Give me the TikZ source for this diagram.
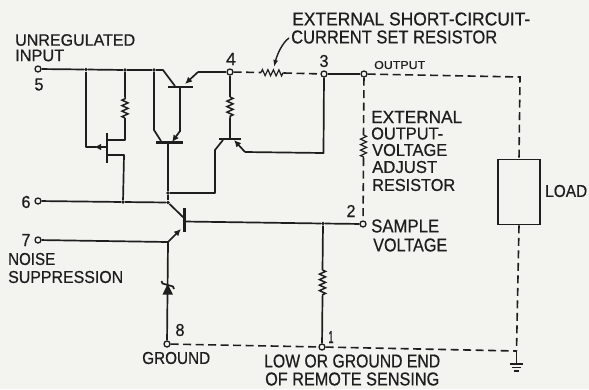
\documentclass[tikz,border=0pt]{standalone}
\usepackage{fontspec}
\setmainfont[FakeBold=0.6]{Liberation Sans}
\usetikzlibrary{arrows.meta,decorations.pathmorphing,positioning}
\definecolor{ink}{HTML}{1E1E1E}
\definecolor{paper}{HTML}{F3F3F0}
\tikzset{
  wire/.style={draw=ink,line width=1.7bp,line join=round},
  thin wire/.style={draw=ink,line width=1.2bp},
  ext/.style={draw=ink,line width=1.6bp,dash pattern=on 8bp off 4.5bp},
  res/.style={draw=ink,line width=1.5bp,decorate,decoration={zigzag,amplitude=3bp,segment length=5.5bp}},
  bar/.style={draw=ink,line width=2.1bp},
  arr/.style={draw=ink,line width=1.7bp,-{Latex[length=7bp,width=6.5bp]}},
  term/.style={circle,draw=ink,line width=1.3bp,fill=paper,minimum size=6bp,inner sep=0pt},
  dot/.style={circle,fill=ink,minimum size=3.8bp,inner sep=0pt},
  lbl/.style={inner sep=0pt,anchor=west,text=ink},
}
\newcommand{\T}[3]{\resizebox{#1bp}{#2bp}{#3}}
\begin{document}
\begin{tikzpicture}[x=1bp,y=-1bp]
\useasboundingbox (0,0) rectangle (589,389);
\fill[paper] (0,0) rectangle (589,389);

% junctions
\node[dot] (j1) at (86,69.5) {};
\node[dot] (j2) at (125,70) {};
\node[dot] (j3) at (154,70) {};
\node[dot] (j6) at (123,202) {};
\node[dot] (j7) at (168,193) {};
\node[dot] (j8) at (168,202.5) {};
\node[dot] (j9) at (323,223.5) {};

% terminals
\node[term] (t5) at (38,69) {};
\node[term] (t6) at (38,201) {};
\node[term] (t7) at (38,240) {};
\node[term] (t8) at (167,344) {};
\node[term] (t4) at (230,72) {};
\node[term] (t3) at (324,74) {};
\node[term] (tout) at (364,74) {};
\node[term] (t2) at (363,224) {};
\node[term] (t1) at (322,347) {};

% resistors and corners
\coordinate (r1a) at (125,97); \coordinate (r1b) at (125,118);
\coordinate (r2a) at (230,97); \coordinate (r2b) at (230,118);
\coordinate (r3a) at (261,72.5); \coordinate (r3b) at (284,73);
\coordinate (r4a) at (363.5,135); \coordinate (r4b) at (363.5,158);
\coordinate (r5a) at (322.5,270); \coordinate (r5b) at (322.5,296);

% input rail
\draw[wire] (t5) -- (j1) -- (j2) -- (j3) -- (163,70) -- (175,86);
% JFET
\draw[wire] (j1) -- (86,147) -- (96,147);
\draw[arr] (108,147) -- (94,147);
\draw[bar] (107,133) -- (107,163);
\draw[wire] (107,140) -- (125,140) -- (r1b);
\draw[res] (r1b) -- (r1a);
\draw[wire] (r1a) -- (j2);
\draw[wire] (107,155) -- (124,155) -- (j6);
% transistor 1
\draw[bar] (168,87) -- (193,87);
\draw[wire] (198,72) -- (t4);
\draw[arr] (198,72) -- (185,84);
\draw[wire] (180,87) -- (180,132);
% transistor 2
\draw[wire] (j3) -- (154,130) -- (161,141);
\draw[bar] (156,142.5) -- (183,142.5);
\draw[arr] (180,131) -- (172,142);
\draw[wire] (168,142) -- (j7) -- (j8);
% transistor 3 (bottom)
\draw[wire] (t6) -- (j6) -- (j8) -- (184,218);
\draw[bar] (184.5,208) -- (184.5,232);
\draw[wire] (184.5,221.5) -- (j9) -- (t2);
\draw[wire] (t7) -- (168,242);
\draw[arr] (168,242) -- (181,229);
% feedback transistor
\draw[wire] (j7) -- (215,193) -- (215,150) -- (223,140);
\draw[bar] (219,139) -- (241,139);
\draw[wire] (t4) -- (r2a);
\draw[res] (r2a) -- (r2b);
\draw[wire] (r2b) -- (230,139);
\draw[arr] (245,152) -- (234,140);
\draw[wire] (245,152) -- (323.5,153) -- (t3);
\draw[wire] (t3) -- (tout);
% zener and ground path
\draw[wire] (168,242) -- (t8);
\fill[ink] (162.5,294.5) -- (173,294.5) -- (167.7,284) -- cycle;
\draw[wire] (161.5,281) -- (162.5,283.5) -- (173,286.5) -- (174,289);
% sense resistor
\draw[wire] (j9) -- (r5a);
\draw[res] (r5a) -- (r5b);
\draw[wire] (r5b) -- (t1);
% external wiring
\draw[ext] (t4) -- (r3a);
\draw[res,line width=1.2bp] (r3a) -- (r3b);
\draw[ext] (r3b) -- (t3);
\draw[ext] (tout) -- (520,77) -- (519,159);
\draw[ext] (tout) -- (r4a);
\draw[res,line width=1.2bp] (r4a) -- (r4b);
\draw[ext] (r4b) -- (t2);
\node[draw=ink,line width=1.7bp,minimum width=42bp,minimum height=65bp,inner sep=0pt] (load) at (519,192) {};
\coordinate (gnd) at (516.5,351);
\draw[ext] (load.south) -- (gnd);
\draw[ext] (t8) -- (t1) -- (gnd);
\draw[wire] (gnd) -- (516.5,364);
\draw[wire] (510,364) -- (523,364);
\draw[thin wire] (512,367.5) -- (521,367.5);
\draw[thin wire] (514,371) -- (519,371);
% callout arrow
\coordinate (call) at (289,38);
\draw[draw=ink,line width=1.4bp,-{Latex[length=7bp,width=5bp]}] (call) .. controls (282,43) and (277,55) .. (274,67);

% labels
\node[lbl] (a1) at (15,40) {\T{120}{11.5}{UNREGULATED}};
\node[lbl] (a2) at (15,55.5) {\T{49}{11.5}{INPUT}};
\node[lbl,anchor=center] (n5) at (39,84.5) {\T{9}{12}{5}};
\node[lbl,anchor=center] (n6) at (26,202) {\T{9}{12}{6}};
\node[lbl,anchor=center] (n7) at (26,240) {\T{9}{12}{7}};
\node[lbl] (a3) at (8,259) {\T{47}{12}{NOISE}};
\node[lbl] (a4) at (8,277) {\T{115}{12}{SUPPRESSION}};
\node[lbl,anchor=center] (n8) at (180,330) {\T{9}{12}{8}};
\node[lbl] (a5) at (142,358) {\T{68}{12}{GROUND}};
\node[lbl,anchor=center] (n4) at (231,59) {\T{10}{12}{4}};
\node[lbl,anchor=center] (n3) at (324,61) {\T{9}{12}{3}};
\node[lbl] (a6) at (374,65) {\T{51}{8}{OUTPUT}};
\node[lbl] (a7) at (292,19) {\T{238}{13}{EXTERNAL SHORT-CIRCUIT-}};
\node[lbl] (a8) at (291,37) {\T{206}{13}{CURRENT SET RESISTOR}};
\node[lbl] (a9) at (371,117) {\T{91}{12}{EXTERNAL}};
\node[lbl] (a10) at (371,133.5) {\T{72}{12}{OUTPUT-}};
\node[lbl] (a11) at (372,150) {\T{75}{12}{VOLTAGE}};
\node[lbl] (a12) at (372,167) {\T{65}{12}{ADJUST}};
\node[lbl] (a13) at (372,185) {\T{83}{12}{RESISTOR}};
\node[lbl] (a14) at (545,191) {\T{42}{12}{LOAD}};
\node[lbl,anchor=center] (n2) at (351,211) {\T{9}{12}{2}};
\node[lbl] (a15) at (371,226) {\T{68}{13}{SAMPLE}};
\node[lbl] (a16) at (373,245) {\T{74}{13}{VOLTAGE}};
\node[lbl,anchor=center] (n1) at (331,337) {\T{5}{12}{1}};
\node[lbl] (a17) at (264,361) {\T{176}{13}{LOW OR GROUND END}};
\node[lbl] (a18) at (265,379) {\T{174}{13}{OF REMOTE SENSING}};
\end{tikzpicture}
\end{document}
